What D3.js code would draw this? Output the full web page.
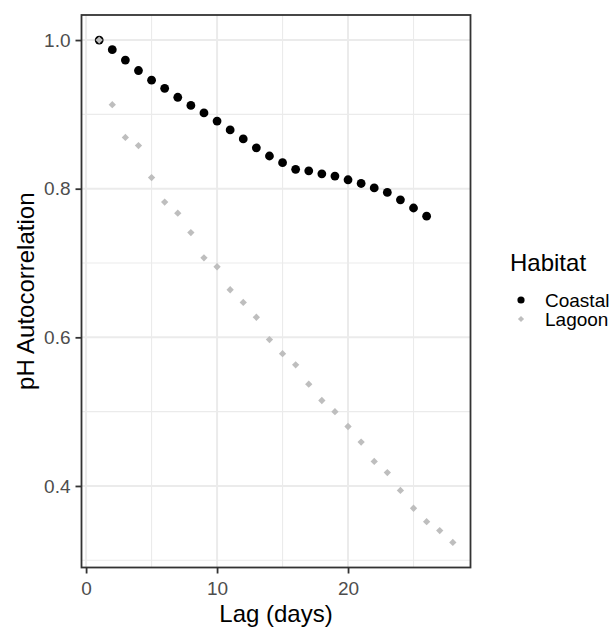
<!DOCTYPE html>
<html>
<head>
<meta charset="utf-8">
<script src="https://cdn.jsdelivr.net/npm/d3@7"></script>
<style>
  body { margin: 0; background: #fff; }
  svg { font-family: "Liberation Sans", Arial, sans-serif; }
</style>
</head>
<body>
<div id="vis"></div>
<script>
// data
let lagCoastal = d3.range(1, 27)
let coastal = [1.000, 0.987, 0.973, 0.959, 0.946, 0.935, 0.923, 0.912, 0.902, 0.891,
  0.879, 0.867, 0.855, 0.844, 0.835, 0.826, 0.824, 0.820, 0.817, 0.812,
  0.807, 0.801, 0.795, 0.785, 0.774, 0.763]
let lagLagoon = d3.range(1, 29)
let lagoon = [1.000, 0.913, 0.869, 0.858, 0.815, 0.782, 0.767, 0.741, 0.707, 0.695,
  0.664, 0.647, 0.627, 0.597, 0.578, 0.563, 0.537, 0.515, 0.500, 0.480,
  0.459, 0.433, 0.418, 0.394, 0.370, 0.352, 0.340, 0.324]
let habitats = ['Coastal', 'Lagoon']
let xTicks = [0, 10, 20]
let yTicks = [0.4, 0.6, 0.8, 1.0]

let W = 615, H = 628
let margin = {top: 15, left: 81.5, right: 144.5, bottom: 60.5}
let width = W - margin.left - margin.right,
  height = H - margin.top - margin.bottom

let svg = d3.select('#vis').append('svg')
  .attr('width', W)
  .attr('height', H)

let g = svg.append('g')
  .attr('transform', `translate(${margin.left},${margin.top})`)

let xScale = d3.scaleLinear().domain([-0.35, 29.35]).range([0, width])
let yScale = d3.scaleLinear().domain([0.2903, 1.0337]).range([height, 0])

// grid
let gridCol = '#ebebeb'
g.selectAll('.xminor').data([5, 15, 25]).enter().append('line')
  .attr('x1', d => xScale(d)).attr('x2', d => xScale(d))
  .attr('y1', 0).attr('y2', height)
  .attr('stroke', gridCol).attr('stroke-width', 1.1)
g.selectAll('.yminor').data([0.3, 0.5, 0.7, 0.9]).enter().append('line')
  .attr('y1', d => yScale(d)).attr('y2', d => yScale(d))
  .attr('x1', 0).attr('x2', width)
  .attr('stroke', gridCol).attr('stroke-width', 1.1)
g.selectAll('.xmajor').data(xTicks).enter().append('line')
  .attr('x1', d => xScale(d)).attr('x2', d => xScale(d))
  .attr('y1', 0).attr('y2', height)
  .attr('stroke', gridCol).attr('stroke-width', 2)
g.selectAll('.ymajor').data(yTicks).enter().append('line')
  .attr('y1', d => yScale(d)).attr('y2', d => yScale(d))
  .attr('x1', 0).attr('x2', width)
  .attr('stroke', gridCol).attr('stroke-width', 2)

// points
let gray = '#bebebe'
g.selectAll('.coastal').data(coastal).enter().append('circle')
  .attr('cx', (d, i) => xScale(lagCoastal[i]))
  .attr('cy', d => yScale(d))
  .attr('r', 4.4)
  .style('fill', '#000')

let diamond = d3.symbol().type(d3.symbolDiamond2).size(34)
g.selectAll('.lagoon').data(lagoon).enter().append('path')
  .attr('d', diamond)
  .attr('transform', (d, i) => `translate(${xScale(lagLagoon[i])},${yScale(d)})`)
  .style('fill', gray)

// panel border
g.append('rect')
  .attr('width', width).attr('height', height)
  .attr('fill', 'none').attr('stroke', '#333').attr('stroke-width', 1.8)

// axes
let xAxis = d3.axisBottom(xScale).tickValues(xTicks).tickSize(6).tickPadding(4)
let yAxis = d3.axisLeft(yScale).tickValues(yTicks).tickFormat(d3.format('.1f')).tickSize(6).tickPadding(5)

let gx = g.append('g')
  .attr('transform', `translate(0,${height})`)
  .call(xAxis)
let gy = g.append('g').call(yAxis)
;[gx, gy].forEach(a => {
  a.select('.domain').remove()
  a.selectAll('line').attr('stroke', '#333').attr('stroke-width', 1.8)
  a.selectAll('text').attr('fill', '#4d4d4d').style('font-size', '19px')
    .style('font-family', '"Liberation Sans", Arial, sans-serif')
})
gx.selectAll('text').attr('dy', null).attr('y', 0).attr('transform', 'translate(0,27)')

// axis titles
svg.append('text')
  .attr('x', margin.left + width / 2)
  .attr('y', 622)
  .attr('text-anchor', 'middle')
  .style('font-size', '24px')
  .text('Lag (days)')

svg.append('text')
  .attr('transform', `translate(34,${margin.top + height / 2}) rotate(-90)`)
  .attr('text-anchor', 'middle')
  .style('font-size', '24px')
  .text('pH Autocorrelation')

// legend
let leg = svg.append('g').attr('transform', 'translate(510,0)')
leg.append('text')
  .attr('x', 0).attr('y', 271)
  .style('font-size', '24px')
  .text('Habitat')
leg.append('circle').attr('cx', 11).attr('cy', 300).attr('r', 3.6).style('fill', '#000')
leg.append('path').attr('d', d3.symbol().type(d3.symbolDiamond2).size(24))
  .attr('transform', 'translate(11,319)').style('fill', gray)
leg.selectAll('.lab').data(habitats).enter().append('text')
  .attr('x', 35)
  .attr('y', (d, i) => 300 + i * 19)
  .attr('dy', '0.35em')
  .style('font-size', '19px')
  .text(d => d)
</script>
</body>
</html>
